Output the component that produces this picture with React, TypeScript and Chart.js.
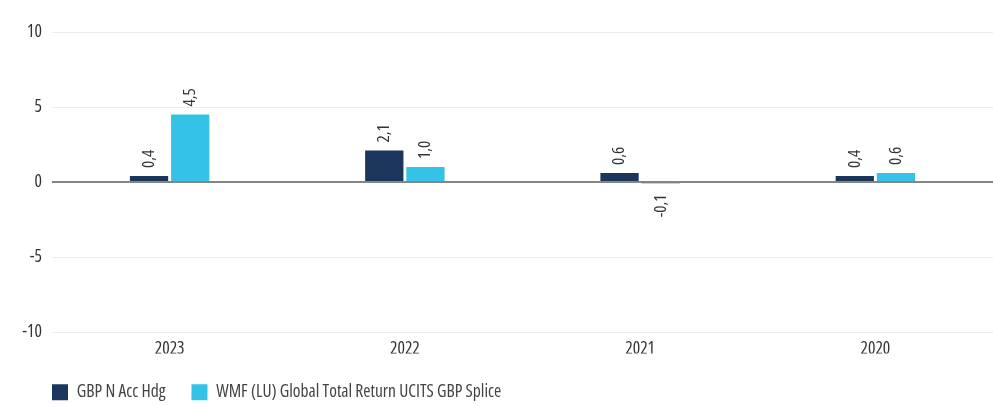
import React, { useEffect, useRef } from "react";
import { Chart, registerables } from "chart.js";

Chart.register(...registerables);

const categories = ["2023", "2022", "2021", "2020"];
const seriesNames = ["GBP N Acc Hdg", "WMF (LU) Global Total Return UCITS GBP Splice"];
const fundValues = [0.4, 2.1, 0.6, 0.4];
const benchValues = [4.5, 1.0, -0.1, 0.6];
const yTicks = [-10, -5, 0, 5, 10];

const FAMILY = "'Open Sans', sans-serif";
const STRETCH = "condensed";
const COLORS = ["#1B365D", "#34C3E7"];

const labelPlugin = {
  id: "barLabels",
  afterDatasetsDraw(chart: any) {
    const ctx = chart.ctx;
    ctx.save();
    ctx.font = `${STRETCH} 17px ${FAMILY}`;
    ctx.fillStyle = "#333333";
    ctx.textBaseline = "middle";
    chart.data.datasets.forEach((ds: any, di: number) => {
      const meta = chart.getDatasetMeta(di);
      meta.data.forEach((bar: any, i: number) => {
        const v = ds.data[i];
        const txt = v.toFixed(1).replace(".", ",");
        ctx.save();
        if (v >= 0) {
          ctx.translate(bar.x, Math.min(bar.y, bar.base) - 8);
          ctx.rotate(-Math.PI / 2);
          ctx.textAlign = "left";
        } else {
          ctx.translate(bar.x, Math.max(bar.y, bar.base) + 11);
          ctx.rotate(-Math.PI / 2);
          ctx.textAlign = "right";
        }
        ctx.fillText(txt, 0, 0);
        ctx.restore();
      });
    });
    ctx.restore();
  },
};

const LEGEND_PAD = 26;

const legendShift = {
  id: "legendShift",
  afterLayout(chart: any) {
    const lg = chart.legend;
    if (lg) {
      const dx = chart.chartArea.left - LEGEND_PAD - lg.left;
      lg.left += dx;
      lg.right += dx;
      lg.top += 4;
      lg.bottom += 4;
    }
  },
};

export default function App() {
  const ref = useRef<HTMLCanvasElement | null>(null);
  useEffect(() => {
    document.body.style.margin = "0";
    const chart = new Chart(ref.current!, {
      type: "bar",
      data: {
        labels: categories,
        datasets: [
          { label: seriesNames[0], data: fundValues, backgroundColor: COLORS[0], categoryPercentage: 0.35, barPercentage: 0.93 },
          { label: seriesNames[1], data: benchValues, backgroundColor: COLORS[1], categoryPercentage: 0.35, barPercentage: 0.93 },
        ],
      },
      options: {
        animation: false,
        responsive: false,
        maintainAspectRatio: false,
        layout: { padding: { top: 32, right: 0, left: 0, bottom: 0 } },
        plugins: {
          tooltip: { enabled: false },
          legend: {
            position: "bottom",
            align: "start",
            labels: {
              boxWidth: 16,
              boxHeight: 16,
              padding: LEGEND_PAD,
              color: "#444444",
              font: { family: FAMILY, weight: STRETCH, size: 17.5 },
            },
          },
        },
        scales: {
          x: {
            grid: { display: false, drawTicks: false },
            border: { display: false },
            ticks: { color: "#333333", font: { family: FAMILY, weight: STRETCH, size: 17.5 }, padding: 7 },
            afterFit(scale: any) {
              scale.height = 21.5;
            },
          },
          y: {
            min: -10,
            max: 10,
            z: 1,
            afterBuildTicks(scale: any) {
              scale.ticks = yTicks.map((v) => ({ value: v }));
            },
            afterFit(scale: any) {
              scale.width = 52;
            },
            grid: {
              drawTicks: false,
              color: (c: any) => (c.tick && c.tick.value === 0 ? "#858585" : "#ececec"),
              lineWidth: (c: any) => (c.tick && c.tick.value === 0 ? 2 : 1),
            },
            border: { display: false },
            ticks: { color: "#333333", font: { family: FAMILY, weight: STRETCH, size: 17.5 }, padding: 10 },
          },
        },
      },
      plugins: [labelPlugin, legendShift],
    });
    return () => chart.destroy();
  }, []);
  return (
    <div style={{ width: 993, height: 407 }}>
      <canvas ref={ref} width={993} height={407} style={{ display: "block" }} />
    </div>
  );
}
